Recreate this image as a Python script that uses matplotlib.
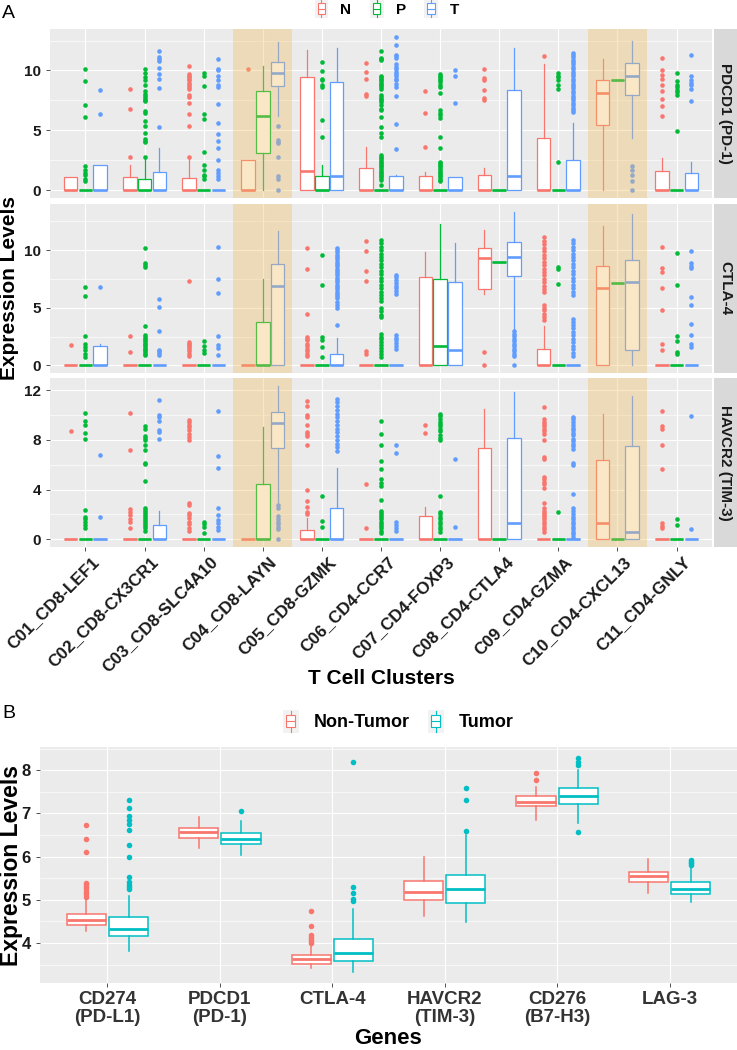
import numpy as np
import matplotlib
matplotlib.use("Agg")
import matplotlib.pyplot as plt
from matplotlib.legend_handler import HandlerBase
from matplotlib.patches import Rectangle
from matplotlib.lines import Line2D
from matplotlib.ticker import FixedLocator
from matplotlib.transforms import ScaledTranslation

plt.rcParams['font.family'] = ['Liberation Sans', 'DejaVu Sans']

# ---------------- data: panel A ----------------
clusters = ['C01_CD8-LEF1', 'C02_CD8-CX3CR1', 'C03_CD8-SLC4A10', 'C04_CD8-LAYN',
            'C05_CD8-GZMK', 'C06_CD4-CCR7', 'C07_CD4-FOXP3', 'C08_CD4-CTLA4',
            'C09_CD4-GZMA', 'C10_CD4-CXCL13', 'C11_CD4-GNLY']
groups = ['N', 'P', 'T']
genes_a = ['PDCD1 (PD-1)', 'CTLA-4', 'HAVCR2 (TIM-3)']
highlight = [4, 10]   # clusters shaded

Z = (0, 0, 0, 0, 0)   # all-zero box
# box tuples: (whisker low, q1, median, q3, whisker high)
pd1_box_N = [(0, 0, 0, 1.08, 1.08), (0, 0, 0, 1.1, 2.13), (0, 0, 0, 1.0, 2.68), (0, 0, 0, 2.54, 2.54),
             (0, 0, 1.63, 9.45, 11.71), (0, 0, 0, 1.85, 3.59), (0, 0, 0, 1.22, 1.55), (0, 0, 0, 1.24, 1.85),
             (0, 0, 0, 4.34, 10.55), (0, 5.44, 8.12, 9.23, 10.97), (0, 0, 0, 1.63, 2.68)]
pd1_out_N = [[], [8.48, 6.77, 2.82],
             [10.36, 9.72, 9.58, 9.45, 9.3, 9.17, 8.98, 8.8, 8.6, 8.48, 7.93, 7.79, 7.29, 6.33, 5.36, 2.79],
             [10.14], [], [10.6, 9.86, 9.3, 8.07, 7.85], [8.26, 6.46, 3.65],
             [10.14, 9.36, 9.17, 8.4, 7.7, 7.51], [11.2], [],
             [11.02, 10.0, 9.64, 9.3, 8.76, 8.29, 7.65, 7.02, 6.22]]
pd1_box_P = [Z, (0, 0, 0, 0.97, 2.62), Z, (0, 3.09, 6.19, 8.26, 10.36), (0, 0, 0, 1.16, 2.13),
             Z, Z, Z, Z, (9.23, 9.23, 9.23, 9.23, 9.23), Z]
pd1_out_P = [[10.14, 9.12, 7.1, 6.08, 2.04, 1.66, 1.44, 1.24, 0.97, 0.75],
             [10.14, 9.78, 9.45, 9.23, 8.76, 8.29, 8.07, 7.85, 7.71, 7.57, 7.43, 6.63, 6.49, 5.8, 5.36,
              4.75, 4.25, 4.14, 4.0, 2.76],
             [9.78, 9.58, 8.67, 6.33, 5.91, 3.23, 2.13, 1.66, 1.24, 1.16, 0.97],
             [], [10.69, 9.92, 9.3, 9.17, 8.8, 8.6, 5.86, 4.48],
             [11.66, 11.05, 10.97, 10.88, 9.58, 9.45, 9.3, 9.17, 9.03, 8.9, 8.76, 8.6, 8.48, 7.93, 7.79,
              7.65, 7.51, 7.38, 7.1, 6.82, 6.69, 6.13, 5.3, 4.8, 4.45, 2.96, 2.82, 2.68, 2.54, 2.4, 2.27,
              2.13, 1.99, 1.85, 1.71, 1.57, 1.44, 1.3, 1.16, 1.02, 0.88, 0.41],
             [9.72, 9.58, 9.45, 9.3, 9.17, 9.03, 8.8, 8.6, 8.12, 6.69, 6.49, 6.27, 6.0, 4.42, 3.5, 2.4,
              2.27, 2.13, 1.99, 1.85, 1.71, 1.57, 1.44, 1.3, 1.16, 1.02, 0.88, 0.75],
             [], [9.78, 9.58, 9.45, 9.17, 8.76, 8.43, 2.4], [],
             [9.78, 9.09, 8.8, 8.6, 8.4, 8.2, 7.93, 4.97]]
pd1_box_T = [(0, 0, 0, 2.1, 2.1), (0, 0, 0, 1.55, 3.5), Z, (6.2, 8.7, 9.83, 10.69, 12.4),
             (0, 0, 1.19, 9.0, 11.88), (0, 0, 0, 1.16, 1.25), (0, 0, 0, 1.08, 1.08),
             (0, 0, 1.16, 8.4, 11.88), (0, 0, 0, 2.49, 5.58), (4.34, 7.93, 9.53, 10.6, 12.43),
             (0, 0, 0, 1.41, 2.4)]
pd1_out_T = [[8.34, 6.4], [11.6, 11.1, 10.97, 10.83, 10.2, 9.72, 9.25, 8.56, 5.25],
             [10.97, 10.14, 10.0, 9.58, 9.17, 8.8, 8.6, 7.24, 5.58, 4.7, 4.14, 3.5, 2.54, 1.71, 1.44,
              1.16, 0.94],
             [5.39, 4.2, 4.0, 3.92, 2.76, 1.16, 0.94, 0], [],
             [12.82, 12.13, 11.3, 11.19, 11.05, 10.55, 10.28, 10.14, 9.86, 9.72, 9.58, 9.3, 9.17, 8.9,
              8.6, 7.87, 5.5, 3.45],
             [10.0, 9.58, 7.32], [],
             [11.5, 11.3, 11.1, 10.9, 10.7, 10.5, 10.3, 10.1, 9.9, 9.7, 9.5, 9.3, 9.1, 8.9, 8.7, 8.5,
              8.3, 8.1, 7.9, 7.7, 7.5, 7.3, 7.1, 6.9, 6.7, 6.5],
             [2.07, 1.71, 1.3, 0.8, 0], [11.3, 9.5, 9.23, 8.95, 8.76, 8.48, 7.43]]

ctla_box_N = [Z, Z, Z, Z, Z, Z, (0, 0, 0, 7.68, 9.86), (6.2, 6.58, 9.28, 10.2, 11.74),
              (0, 0, 0, 1.45, 3.39), (0, 0, 6.72, 8.64, 12.09), Z]
ctla_out_N = [[1.74], [2.52, 1.16], [7.3, 2.03, 1.88, 1.74, 1.59, 1.45, 1.25, 1.01, 0.78], [],
              [10.14, 8.4, 4.49, 2.46, 2.32, 2.17, 1.88, 1.68, 1.45, 1.22, 1.01, 0.81],
              [10.78, 9.94, 8.2, 7.3, 1.22, 1.01], [], [1.16, 0],
              [11.1, 10.8, 10.5, 10.2, 9.9, 9.6, 9.3, 9.0, 8.7, 8.4, 8.1, 7.8, 7.5, 7.2, 6.9, 6.6, 6.4,
               5.22, 5.01, 4.78, 4.49, 4.2, 3.91],
              [], [10.29, 8.41, 8.12, 6.67, 4.84, 1.83, 1.36]]
ctla_box_P = [Z, Z, Z, (0, 0, 0, 3.77, 7.48), Z, Z, (0, 0, 1.65, 7.45, 12.23),
              (8.93, 8.93, 8.93, 8.93, 8.93), Z, (7.16, 7.16, 7.16, 7.16, 7.16), Z]
ctla_out_P = [[6.81, 6.0, 2.52, 1.88, 1.59, 1.3, 1.01, 0.72],
              [10.2, 8.84, 8.7, 8.55, 3.39, 2.6, 2.46, 2.32, 2.17, 2.03, 1.88, 1.74, 1.59, 1.45, 1.3,
               1.16, 1.01, 0.87],
              [2.09, 1.68, 1.3, 1.07], [], [9.57, 6.96, 2.46, 2.23, 1.59, 0.72],
              [10.9, 10.6, 10.3, 10.0, 9.7, 9.4, 9.1, 8.8, 8.5, 8.2, 7.9, 7.6, 7.3, 7.0, 6.7, 6.4, 6.1,
               5.8, 5.6, 5.0, 4.7, 4.4, 4.15, 2.75, 2.5, 2.25, 2.0, 1.75, 1.5, 1.25, 1.0, 0.75],
              [], [], [8.55, 8.35, 7.04], [], [9.77, 6.96, 2.52, 2.12, 1.16, 0.96]]
ctla_box_T = [(0, 0, 0, 1.71, 1.85), Z, Z, (0, 0, 6.9, 8.75, 11.65), (0, 0, 0, 0.99, 2.4), Z,
              (0, 0, 1.3, 7.19, 10.58), (3.19, 7.74, 9.42, 10.72, 13.33), Z,
              (0, 1.3, 7.25, 9.13, 13.13), Z]
ctla_out_T = [[6.81], [5.74, 5.07, 2.96, 1.36, 1.22, 1.07, 0.93],
              [10.23, 7.45, 6.29, 2.52, 1.74, 1.51, 0.93], [],
              [10.2, 10.0, 9.8, 9.6, 9.4, 9.2, 9.0, 8.8, 8.6, 8.4, 8.2, 8.0, 7.8, 7.6, 7.4, 7.2, 7.0,
               6.8, 6.6, 6.4, 6.2, 6.0, 5.8, 5.5, 5.2, 4.95, 3.48],
              [7.83, 7.62, 7.39, 7.1, 6.87, 6.67, 6.46, 6.23, 2.61, 2.41, 2.17, 1.94, 1.68, 1.45],
              [], [2.96, 2.75, 2.55, 2.32, 2.12, 1.88, 1.68, 1.45, 1.25, 1.01, 0.81, 0],
              [10.9, 10.6, 10.3, 10.0, 9.7, 9.4, 9.1, 8.8, 8.5, 8.2, 7.9, 7.6, 7.3, 7.0, 6.7, 6.4, 6.1,
               4.06, 3.8, 3.5, 3.2, 2.9, 2.6, 2.3, 2.0, 1.7, 1.4, 1.1, 0.8],
              [], [9.91, 8.9, 8.64, 8.41, 5.94, 5.22, 3.62, 2.61, 1.88, 1.59]]

tim3_box_N = [Z, Z, Z, Z, (0, 0, 0, 0.75, 1.68), Z, (0, 0, 0, 1.89, 2.56), (0, 0, 0, 7.33, 10.48),
              Z, (0, 0, 1.33, 6.35, 10.08), Z]
tim3_out_N = [[8.67], [10.13, 7.2, 2.43, 2.21, 1.95, 1.63, 1.36, 0.88],
              [9.6, 9.41, 9.2, 9.01, 8.75, 8.43, 8.21, 7.95, 2.88, 2.75, 2.08, 1.95, 1.68, 1.41, 1.2,
               0.93, 0.69],
              [], [11.15, 10.75, 10.0, 9.81, 9.15, 8.61, 8.48, 8.27, 7.55, 4.0, 3.07, 2.61, 2.21, 2.0],
              [4.43, 0.88], [9.2, 8.56], [],
              [10.67, 9.68, 9.47, 9.28, 9.07, 8.88, 8.67, 8.48, 7.95, 6.61, 6.43, 5.01, 4.83, 4.61,
               4.43, 4.16, 2.93, 2.48, 2.29, 2.13, 1.95, 1.76, 1.6, 1.41, 1.23, 1.01, 0.83, 0.61],
              [], [10.29, 9.07, 8.88, 7.55, 5.68, 1.28, 1.07, 0.88]]
tim3_box_P = [Z, Z, Z, (0, 0, 0, 4.48, 9.01), Z, Z, Z, Z, Z, Z, Z]
tim3_out_P = [[10.13, 9.55, 9.15, 8.56, 8.03, 2.35, 1.81, 1.6, 1.41, 1.15, 0.88],
              [9.09, 8.88, 8.29, 8.16, 8.0, 7.55, 7.15, 6.16, 6.03, 4.69, 2.53, 2.35, 2.21, 2.03, 1.89,
               1.73, 1.57, 1.41, 1.23, 1.07, 0.88, 0.69],
              [1.41, 1.23, 1.01, 0.53], [], [3.47, 1.49, 0.96],
              [9.49, 8.48, 7.6, 6.29, 5.63, 4.83, 4.56, 4.29, 3.15, 2.29, 2.13, 1.95, 1.76, 1.6, 1.41,
               1.23, 1.07, 0.88, 0.69, 0.53],
              [10.08, 9.89, 9.68, 9.47, 9.28, 9.07, 8.88, 8.69, 8.35, 8.16, 8.0, 3.47, 2.16, 2.0, 1.81,
               1.63, 1.41, 1.23, 1.01, 0.83, 0.61],
              [], [2.21], [], [1.6, 1.15]]
tim3_box_T = [Z, (0, 0, 0, 1.12, 2.24), Z, (3.01, 7.36, 9.36, 10.21, 12.35), (0, 0, 0, 2.48, 5.76),
              Z, Z, (0, 0, 1.28, 8.13, 11.87), Z, (0, 0, 0.61, 7.49, 11.49), Z]
tim3_out_T = [[6.8, 1.76], [11.23, 10.0, 9.81, 9.55, 8.8, 8.61, 8.08],
              [10.35, 6.67, 5.76, 2.48, 1.95, 1.55, 1.28, 1.01, 0.75],
              [2.75, 2.5, 1.9, 1.6, 1.4, 1.2, 1.0, 0.8, 0],
              [11.3, 11.0, 10.7, 10.4, 10.1, 9.8, 9.5, 9.2, 8.9, 8.6, 8.3, 8.0, 7.7, 7.4, 7.1],
              [7.6, 6.93, 1.41, 1.15, 0.88, 0.69], [6.48, 0.96], [],
              [9.87, 9.68, 9.41, 9.15, 8.93, 8.75, 8.53, 8.35, 8.08, 7.87, 7.68, 7.47, 7.28, 6.13, 6.0,
               3.63, 2.48, 2.29, 2.03, 1.81, 1.6, 1.41, 1.23, 1.01, 0.83, 0.61, 0.4, 0.21],
              [], [9.89, 0.83]]

rows_a = [
    ({'N': pd1_box_N, 'P': pd1_box_P, 'T': pd1_box_T}, {'N': pd1_out_N, 'P': pd1_out_P, 'T': pd1_out_T}, [0, 5, 10]),
    ({'N': ctla_box_N, 'P': ctla_box_P, 'T': ctla_box_T}, {'N': ctla_out_N, 'P': ctla_out_P, 'T': ctla_out_T}, [0, 5, 10]),
    ({'N': tim3_box_N, 'P': tim3_box_P, 'T': tim3_box_T}, {'N': tim3_out_N, 'P': tim3_out_P, 'T': tim3_out_T}, [0, 4, 8, 12]),
]

# ---------------- data: panel B ----------------
genes_b = ['CD274\n(PD-L1)', 'PDCD1\n(PD-1)', 'CTLA-4', 'HAVCR2\n(TIM-3)', 'CD276\n(B7-H3)', 'LAG-3']
nt_box = [(4.27, 4.42, 4.52, 4.67, 5.0), (6.21, 6.44, 6.56, 6.67, 6.91), (3.42, 3.52, 3.62, 3.72, 3.96),
          (4.63, 5.0, 5.18, 5.44, 5.98), (6.85, 7.17, 7.27, 7.4, 7.62), (5.15, 5.42, 5.54, 5.64, 5.94)]
nt_out = [[6.74, 6.4, 6.11, 5.38, 5.35, 5.29, 5.25, 5.19, 5.14, 5.06], [],
          [4.75, 4.4, 4.18, 4.14, 4.09, 4.05, 4.0], [], [7.94, 7.77], []]
tu_box = [(3.81, 4.17, 4.32, 4.59, 5.08), (6.04, 6.29, 6.41, 6.55, 6.83), (3.32, 3.58, 3.77, 4.09, 4.78),
          (4.49, 4.92, 5.25, 5.58, 6.5), (6.77, 7.22, 7.41, 7.58, 8.01), (4.94, 5.13, 5.25, 5.4, 5.73)]
tu_out = [[7.31, 7.12, 6.94, 6.85, 6.75, 6.62, 6.27, 6.0, 5.52, 5.4, 5.35, 5.29, 5.25], [7.05],
          [8.19, 5.29, 5.15, 5.02, 4.96], [7.58, 7.32, 6.6], [8.29, 8.19, 8.13, 6.58],
          [5.92, 5.88, 5.85, 5.81]]

col_a = {'N': '#F8766D', 'P': '#00BA38', 'T': '#619CFF'}
col_b = {'Non-Tumor': '#F8766D', 'Tumor': '#00BFC4'}
panel_bg = '#EBEBEB'
band_col = '#F2BE62'
txt = '#1A1A1A'

W, H = 737, 1050
fig = plt.figure(figsize=(W / 100, H / 100), dpi=100)


def rect(l, t, r, b):
    return [l / W, 1 - b / H, (r - l) / W, (b - t) / H]


def stats(boxes, outs):
    return [dict(whislo=b[0], q1=b[1], med=b[2], q3=b[3], whishi=b[4], fliers=o)
            for b, o in zip(boxes, outs)]


def draw_boxes(ax, st, pos, w, c, lw, mlw, ms):
    ax.bxp(st, positions=pos, widths=w, patch_artist=True, showcaps=False, manage_ticks=False,
           boxprops=dict(facecolor='white', edgecolor=c, linewidth=lw),
           medianprops=dict(color=c, linewidth=mlw, solid_capstyle='butt'),
           whiskerprops=dict(color=c, linewidth=lw),
           flierprops=dict(marker='o', markerfacecolor=c, markeredgecolor='none', markersize=ms))


def style_axes(ax):
    ax.set_facecolor(panel_bg)
    for s in ax.spines.values():
        s.set_visible(False)
    ax.grid(True, which='major', color='white', lw=0.85, zorder=0)
    ax.grid(True, which='minor', axis='y', color='white', lw=0.45, zorder=0)
    ax.set_axisbelow(True)
    ax.tick_params(which='major', length=3, width=0.6, color='#333333')
    ax.tick_params(which='minor', length=0)


# ---------------- panel A ----------------
rows_px = [(29, 198), (204, 373), (378, 547)]
x = np.arange(1, len(clusters) + 1)
offs = {'N': -0.25, 'P': 0.0, 'T': 0.25}

for r, ((bx, ou, ticks), (top, bot)) in enumerate(zip(rows_a, rows_px)):
    ax = fig.add_axes(rect(50, top, 712, bot))
    style_axes(ax)
    vmax = 0
    for g in groups:
        draw_boxes(ax, stats(bx[g], ou[g]), x + offs[g], 0.23, col_a[g], 0.9, 1.9, 3.3)
        vmax = max(vmax, max(b[4] for b in bx[g]), max(max(o) if o else 0 for o in ou[g]))
    for h in highlight:
        ax.axvspan(h - 0.5, h + 0.5, color=band_col, alpha=0.36, lw=0, zorder=5)
    ax.set_xlim(0.4, len(clusters) + 0.6)
    ax.set_ylim(-0.05 * vmax, vmax * 1.05)
    step = ticks[1] - ticks[0]
    ax.yaxis.set_major_locator(FixedLocator(ticks))
    ax.yaxis.set_minor_locator(FixedLocator(np.arange(step / 2, vmax * 1.05, step)))
    ax.set_yticklabels([str(t) for t in ticks], fontsize=11, fontweight='bold', color=txt)
    ax.set_xticks(x)
    if r < 2:
        ax.tick_params(axis='x', length=0, labelbottom=False)
    else:
        labs = ax.set_xticklabels(clusters, rotation=45, ha='right', va='top', rotation_mode='anchor',
                                  fontsize=12.3, fontweight='bold', color=txt)
        ax.tick_params(axis='x', pad=2)
        shift = ScaledTranslation(6 / 100, 0, fig.dpi_scale_trans)
        for lab in labs:
            lab.set_transform(lab.get_transform() + shift)
    sx = fig.add_axes(rect(714, top, 737, bot))
    sx.set_facecolor('#D9D9D9')
    sx.set_xticks([])
    sx.set_yticks([])
    for s in sx.spines.values():
        s.set_visible(False)
    sx.text(0.5, 0.5, genes_a[r], rotation=-90, ha='center', va='center', fontsize=11,
            fontweight='bold', color=txt, transform=sx.transAxes)

fig.text(10 / W, 1 - 288 / H, 'Expression Levels', rotation=90, ha='center', va='center',
         fontsize=15, fontweight='bold', color='black')
fig.text(381 / W, 1 - 678 / H, 'T Cell Clusters', ha='center', va='center',
         fontsize=15, fontweight='bold', color='black')
fig.text(2 / W, 1 - 14 / H, 'A', ha='left', va='center', fontsize=14, color='black')


class BoxKey(HandlerBase):
    def create_artists(self, legend, orig, xd, yd, width, height, fontsize, trans):
        c = orig.get_color()
        cx = width / 2 - xd
        bw = width * 0.55
        y0 = -yd
        arts = [Rectangle((-xd, y0 - height * 0.15), width, height * 1.3, fc='#F2F2F2', ec='none',
                          transform=trans),
                Line2D([cx, cx], [y0 - height * 0.1, y0 + height * 1.1], color=c, lw=0.8, transform=trans),
                Rectangle((cx - bw / 2, y0 + height * 0.15), bw, height * 0.7, fc='white', ec=c, lw=0.8,
                          transform=trans),
                Line2D([cx - bw / 2, cx + bw / 2], [y0 + height / 2] * 2, color=c, lw=0.8, transform=trans)]
        return arts


hand_a = [Line2D([], [], color=col_a[g]) for g in groups]
fig.legend(hand_a, groups, loc='center', bbox_to_anchor=(387 / W, 1 - 9 / H), ncol=3, frameon=False,
           prop=dict(weight='bold', size=11), handlelength=0.9, handleheight=1.1, handletextpad=0.8,
           columnspacing=1.2, handler_map={Line2D: BoxKey()})

# ---------------- panel B ----------------
axb = fig.add_axes(rect(40, 747, 737, 983))
style_axes(axb)
xb = np.arange(1, len(genes_b) + 1)
draw_boxes(axb, stats(nt_box, nt_out), xb - 0.1875, 0.35, col_b['Non-Tumor'], 1.1, 2.0, 4.0)
draw_boxes(axb, stats(tu_box, tu_out), xb + 0.1875, 0.35, col_b['Tumor'], 1.1, 2.0, 4.0)
allv = [v for b in nt_box + tu_box for v in b] + [v for o in nt_out + tu_out for v in o]
lo, hi = min(allv), max(allv)
pad = 0.05 * (hi - lo)
axb.set_xlim(0.4, len(genes_b) + 0.6)
axb.set_ylim(lo - pad, hi + pad)
axb.yaxis.set_major_locator(FixedLocator([4, 5, 6, 7, 8]))
axb.yaxis.set_minor_locator(FixedLocator(np.arange(3.5, 9, 1.0)))
axb.set_yticklabels(['4', '5', '6', '7', '8'], fontsize=12, fontweight='bold', color=txt)
axb.set_xticks(xb)
axb.set_xticklabels(genes_b, fontsize=13.5, fontweight='bold', color='#333333', linespacing=1.05)
axb.tick_params(axis='x', pad=3)

fig.text(12 / W, 1 - 865 / H, 'Expression Levels', rotation=90, ha='center', va='center',
         fontsize=16.5, fontweight='bold', color='black')
fig.text(388 / W, 1 - 1038 / H, 'Genes', ha='center', va='center',
         fontsize=16, fontweight='bold', color='black')
fig.text(2 / W, 1 - 713 / H, 'B', ha='left', va='center', fontsize=14, color='black')

hand_b = [Line2D([], [], color=col_b[k]) for k in col_b]
fig.legend(hand_b, list(col_b), loc='center', bbox_to_anchor=(398 / W, 1 - 722 / H), ncol=2,
           frameon=False, prop=dict(weight='bold', size=13), handlelength=0.9, handleheight=1.1,
           handletextpad=0.8, columnspacing=1.0, handler_map={Line2D: BoxKey()})

fig.savefig('out.png', dpi=100)
